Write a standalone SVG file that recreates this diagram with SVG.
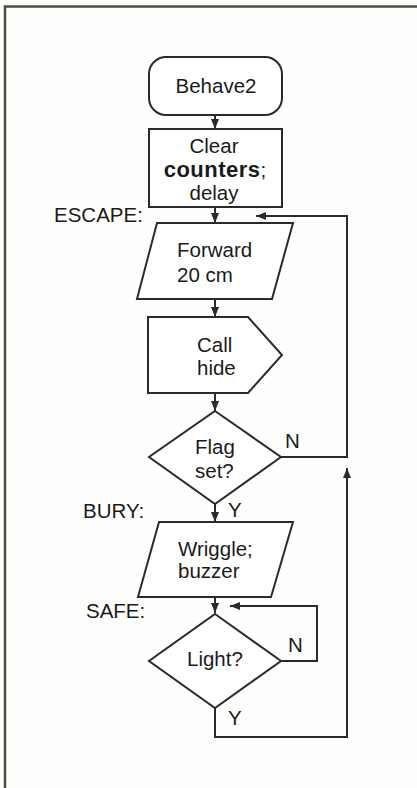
<svg xmlns="http://www.w3.org/2000/svg" width="417" height="788" viewBox="0 0 417 788">
<style>
.s{fill:#fff;stroke:#2a2a2a;stroke-width:2;stroke-linejoin:miter}
.c{fill:none;stroke:#2a2a2a;stroke-width:2}
text{font-family:"Liberation Sans",Arial,sans-serif;font-size:20.5px;fill:#1a1a1a}
.b{font-weight:bold;font-size:22px;letter-spacing:0.5px}
.m{text-anchor:middle}
</style>
<defs>
<marker id="ah" markerWidth="10" markerHeight="10" viewBox="0 0 10 10" refX="10" refY="5" orient="auto" markerUnits="userSpaceOnUse">
<path d="M0,1 L10,5 L0,9 Z" fill="#2a2a2a"/>
</marker>
</defs>
<rect width="417" height="788" fill="#fefefc"/>
<path d="M5,788 V6.5 H417" fill="none" stroke="#4a4d42" stroke-width="2.5"/>

<g id="connectors">
<line class="c" x1="215" y1="115" x2="215" y2="129" marker-end="url(#ah)"/>
<line class="c" x1="215" y1="207" x2="215" y2="223" marker-end="url(#ah)"/>
<line class="c" x1="215" y1="299" x2="215" y2="317" marker-end="url(#ah)"/>
<line class="c" x1="215" y1="393" x2="215" y2="411" marker-end="url(#ah)"/>
<line class="c" x1="215" y1="504" x2="215" y2="522" marker-end="url(#ah)"/>
<line class="c" x1="215" y1="597" x2="215" y2="613" marker-end="url(#ah)"/>
<polyline class="c" points="280,457 347,457 347,216 256,216" marker-end="url(#ah)"/>
<polyline class="c" points="281,661 317,661 317,606 230,606" marker-end="url(#ah)"/>
<polyline class="c" points="215,708 215,737 347,737 347,468" marker-end="url(#ah)"/>
</g>

<g id="behave2">
<rect class="s" x="149" y="57" width="133" height="58" rx="17"/>
<text class="m" x="216" y="93">Behave2</text>
</g>
<g id="clear">
<rect class="s" x="149" y="129" width="133" height="78"/>
<text class="m" x="214" y="153">Clear</text>
<text class="m" x="215" y="177"><tspan class="b">counters</tspan>;</text>
<text class="m" x="214" y="200">delay</text>
</g>
<g id="escape-label"><text x="54" y="222">ESCAPE:</text></g>
<g id="forward">
<polygon class="s" points="157,223 293,223 272,299 137,299"/>
<text x="177" y="257">Forward</text>
<text x="177" y="282">20 cm</text>
</g>
<g id="callhide">
<polygon class="s" points="148,317 248,317 282,355 248,393 148,393"/>
<text x="197" y="352">Call</text>
<text x="197" y="375">hide</text>
</g>
<g id="flag">
<polygon class="s" points="215,411 281,457 215,504 149,457"/>
<text x="195" y="454">Flag</text>
<text x="195" y="478">set?</text>
<text x="285" y="448">N</text>
<text x="228" y="517">Y</text>
</g>
<g id="bury-label"><text x="83" y="518">BURY:</text></g>
<g id="wriggle">
<polygon class="s" points="159,522 293,522 271,597 138,597"/>
<text x="178" y="556">Wriggle;</text>
<text x="178" y="578">buzzer</text>
</g>
<g id="safe-label"><text x="86" y="618">SAFE:</text></g>
<g id="light">
<polygon class="s" points="215,614 281,661 215,708 149,661"/>
<text x="187" y="666">Light?</text>
<text x="288" y="652">N</text>
<text x="228" y="725">Y</text>
</g>
</svg>
